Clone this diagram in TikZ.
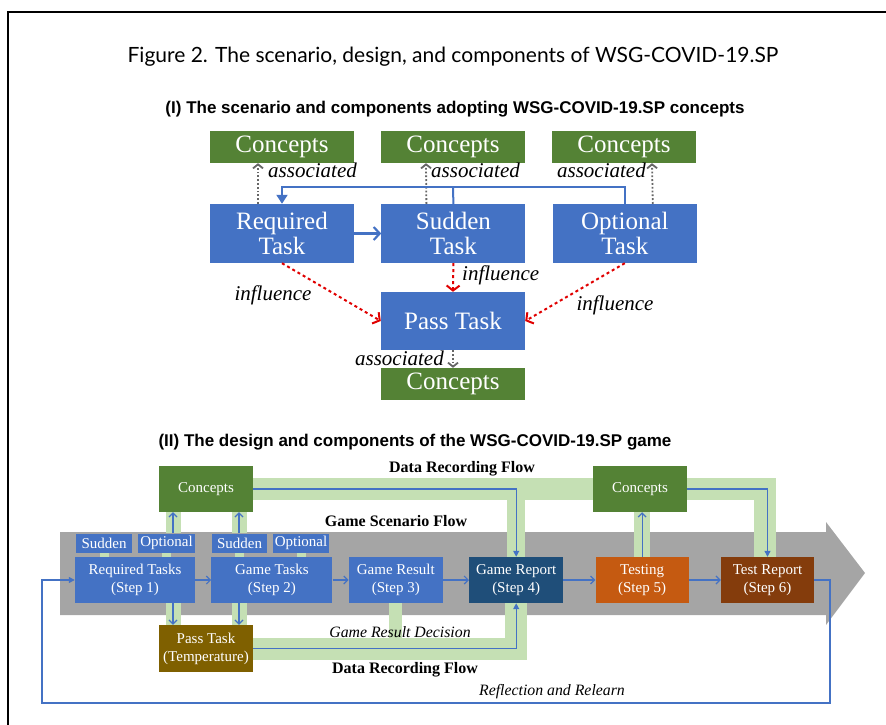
\documentclass[tikz,border=0pt]{standalone}
\usepackage{fontspec}
\setmainfont{Liberation Serif}
\newfontfamily\titlefont{Lato}
\newfontfamily\headfont{Liberation Sans}
\usetikzlibrary{positioning, arrows.meta}
\definecolor{taskblue}{HTML}{4472C4}
\definecolor{conceptgreen}{HTML}{548235}
\definecolor{bandgreen}{HTML}{C5E0B4}
\definecolor{flowgray}{HTML}{A5A5A5}
\definecolor{reportblue}{HTML}{1F4E79}
\definecolor{testorange}{HTML}{C55A11}
\definecolor{reportbrown}{HTML}{843C0C}
\definecolor{passolive}{HTML}{7F6000}
\definecolor{inflred}{HTML}{E00000}
\pgfdeclarelayer{back}
\pgfdeclarelayer{mid}
\pgfsetlayers{back,mid,main}
\tikzstyle{taskbig} = [rectangle, minimum width=144pt, minimum height=59pt, inner sep=0pt, fill=taskblue, text=white, align=center, font=\fontsize{25}{25}\selectfont]
\tikzstyle{conceptbig} = [rectangle, minimum width=144pt, minimum height=32pt, inner sep=0pt, fill=conceptgreen, text=white, font=\fontsize{25}{25}\selectfont]
\tikzstyle{stepbox} = [rectangle, minimum width=94pt, minimum height=46pt, inner sep=0pt, fill=taskblue, text=white, align=center, font=\fontsize{15}{18}\selectfont]
\tikzstyle{tagbox} = [rectangle, minimum height=19pt, inner sep=0pt, fill=taskblue, text=white, font=\fontsize{15}{15}\selectfont]
\tikzstyle{greenband} = [line width=22pt, draw=bandgreen]
\tikzstyle{blueline} = [line width=1.2pt, draw=taskblue]
\tikzstyle{assoc} = [dotted, line width=1.8pt, draw=black!60, -{Straight Barb[length=4pt,width=10pt]}]
\tikzstyle{infl} = [dashed, line width=2pt, draw=inflred, -{Straight Barb[length=5pt,width=13pt]}]
\tikzstyle{sidelabel} = [inner sep=0pt, font=\itshape\fontsize{21}{21}\selectfont]
\tikzstyle{flowlabel} = [inner sep=0pt, font=\bfseries\fontsize{16}{16}\selectfont]
\tikzstyle{notelabel} = [inner sep=0pt, font=\itshape\fontsize{15.8}{15.8}\selectfont]
\tikzstyle{openhead} = [-{Straight Barb[length=4pt,width=8pt]}]
\tikzstyle{fullhead} = [-{Triangle[length=6pt,width=6pt]}]

\begin{document}
\begin{tikzpicture}[x=1pt, y=-1pt]
	\useasboundingbox (0,0) rectangle (886,725);
	\draw[line width=1.6pt] (8,725) -- (8,12) -- (886,12);
	\node (title) [inner sep=0pt, font=\titlefont\fontsize{21}{21}\selectfont] at (453,57) {Figure 2. The scenario, design, and components of WSG-COVID-19.SP};
	\node (headI) [inner sep=0pt, font=\headfont\bfseries\fontsize{17}{17}\selectfont] at (455,109) {(I) The scenario and components adopting WSG-COVID-19.SP concepts};

	% part I
	\node (reqt) [taskbig] at (282,233.5) {Required\\Task};
	\node (sudt) [taskbig, right=27pt of reqt] {Sudden\\Task};
	\node (optt) [taskbig, right=27pt of sudt] {Optional\\Task};
	\node (con1) [conceptbig] at (282,147) {Concepts};
	\node (con2) [conceptbig] at (453,147) {Concepts};
	\node (con3) [conceptbig] at (624,147) {Concepts};
	\node (passt) [taskbig, minimum height=58pt] at (453,321) {Pass Task};
	\node (con4) [conceptbig] at (453,384) {Concepts};

	\draw[assoc] ([xshift=-24pt]reqt.north) -- ([xshift=-24pt]con1.south);
	\draw[assoc] ([xshift=-27pt]sudt.north) -- ([xshift=-27pt]con2.south);
	\draw[assoc] ([xshift=28pt]optt.north) -- ([xshift=28pt]con3.south);
	\draw[assoc] (passt.south) -- (con4.north);
	\node (asc1) [sidelabel, anchor=west] at (268,170) {associated};
	\node (asc2) [sidelabel, anchor=west] at (431,170) {associated};
	\node (asc3) [sidelabel, anchor=east] at (646,170) {associated};
	\node (asc4) [sidelabel, anchor=east] at (444,358) {associated};

	\coordinate (loop) at (453,187);
	\draw[blueline, line width=2pt, -{Triangle[length=9pt,width=11pt]}] (optt.north) |- (loop) -| (reqt.north);
	\draw[blueline, line width=2pt] (sudt.north) -- (loop);
	\draw[blueline, line width=2.2pt, -{Straight Barb[length=6pt,width=13pt]}] (reqt.east) -- (sudt.west);

	\draw[infl] (reqt.south) -- (passt.west);
	\draw[infl] (sudt.south) -- (passt.north);
	\draw[infl] (optt.south) -- (passt.east);
	\node (inf1) [sidelabel] at (273,295) {influence};
	\node (inf2) [sidelabel, anchor=west] at (462,275) {influence};
	\node (inf3) [sidelabel] at (615,305) {influence};

	% part II
	\node (headII) [inner sep=0pt, font=\headfont\bfseries\fontsize{17}{17}\selectfont] at (415,442) {(II) The design and components of the WSG-COVID-19.SP game};
	\begin{pgfonlayer}{back}
		\fill[flowgray] (60,532) -- (826,532) -- (826,522) -- (865,573) -- (826,625) -- (826,615) -- (60,615) -- cycle;
	\end{pgfonlayer}
	\node (reqs) [stepbox, minimum width=120pt] at (135,580) {Required Tasks\\(Step 1)};
	\node (gtask) [stepbox, minimum width=121pt, right=16pt of reqs] {Game Tasks\\(Step 2)};
	\node (gres) [stepbox, right=16pt of gtask] {Game Result\\(Step 3)};
	\node (grep) [stepbox, fill=reportblue, right=26pt of gres] {Game Report\\(Step 4)};
	\node (test) [stepbox, fill=testorange, minimum width=93pt, right=32pt of grep] {Testing\\(Step 5)};
	\node (trep) [stepbox, fill=reportbrown, minimum width=93pt, right=32pt of test] {Test Report\\(Step 6)};
	\node (sud1) [tagbox, minimum width=56pt] at (104,543) {Sudden};
	\node (opt1) [tagbox, minimum width=57pt] at (166.5,543) {Optional};
	\node (sud2) [tagbox, minimum width=55pt] at (239.5,543) {Sudden};
	\node (opt2) [tagbox, minimum width=56pt] at (301,543) {Optional};
	\node (conA) [stepbox, fill=conceptgreen] at (206,489) {Concepts};
	\node (conB) [stepbox, fill=conceptgreen] at (640,489) {Concepts};
	\node (pass2) [stepbox, fill=passolive, minimum height=47pt] at (206,648.5) {Pass Task\\(Temperature)};

	\coordinate (ax1) at (173,0);
	\coordinate (ax2) at (239,0);
	\coordinate (bandr) at (765,489);
	\begin{pgfonlayer}{mid}
		\draw[greenband] (conA.east) -- (bandr) -- (bandr |- trep.north);
		\draw[greenband, line width=18pt] (grep.north |- conA.east) -- (grep.north);
		\draw[greenband, line width=16pt] (test.north) -- (test.north |- conB.south);
		\draw[greenband] (pass2.east) -| (grep.south);
		\draw[greenband, line width=13pt] (gres.south) -- (gres.south |- pass2.east);
		\draw[greenband, line width=15pt] (opt1.north -| ax1) -- (conA.south -| ax1);
		\draw[greenband, line width=15pt] (sud2.north -| ax2) -- (conA.south -| ax2);
		\draw[greenband, line width=15pt] (reqs.south -| ax1) -- (pass2.north -| ax1);
		\draw[greenband, line width=15pt] (gtask.south -| ax2) -- (pass2.north -| ax2);
		\draw[greenband, line width=9pt] (sud1.south) -- (sud1.south |- reqs.north);
		\draw[greenband, line width=9pt] (opt1.south) -- (opt1.south |- reqs.north);
		\draw[greenband, line width=9pt] (sud2.south) -- (sud2.south |- gtask.north);
		\draw[greenband, line width=9pt] (opt2.south) -- (opt2.south |- gtask.north);
	\end{pgfonlayer}

	\draw[blueline, openhead] (reqs) -- (gtask);
	\draw[blueline, openhead] (gtask) -- (gres);
	\draw[blueline, openhead] (gres) -- (grep);
	\draw[blueline, openhead] (grep) -- (test);
	\draw[blueline, openhead] (test) -- (trep);
	\draw[blueline, openhead] (opt1.north -| ax1) -- (conA.south -| ax1);
	\draw[blueline, openhead] (sud2.north -| ax2) -- (conA.south -| ax2);
	\draw[blueline, openhead] (reqs.south -| ax1) -- (pass2.north -| ax1);
	\draw[blueline, openhead] (gtask.south -| ax2) -- (pass2.north -| ax2);
	\draw[blueline, openhead] (test.north) -- (test.north |- conB.south);
	\draw[blueline, fullhead] (conA.east) -| (grep.north);
	\draw[blueline, fullhead] (conB.east) -| (trep.north);
	\draw[blueline, fullhead] (pass2.east) -| (grep.south);

	\coordinate (fbr) at (830,703);
	\coordinate (fbl) at (42,703);
	\draw[blueline, fullhead] (trep.east) -| (fbr) -- (fbl) |- (reqs.west);

	\node (dtop) [flowlabel] at (462,469) {Data Recording Flow};
	\node (gscen) [flowlabel] at (396,521) {Game Scenario Flow};
	\node (gdec) [notelabel] at (400,632) {Game Result Decision};
	\node (dbot) [flowlabel] at (405,670) {Data Recording Flow};
	\node (refl) [notelabel] at (552,692) {Reflection and Relearn};
\end{tikzpicture}
\end{document}
